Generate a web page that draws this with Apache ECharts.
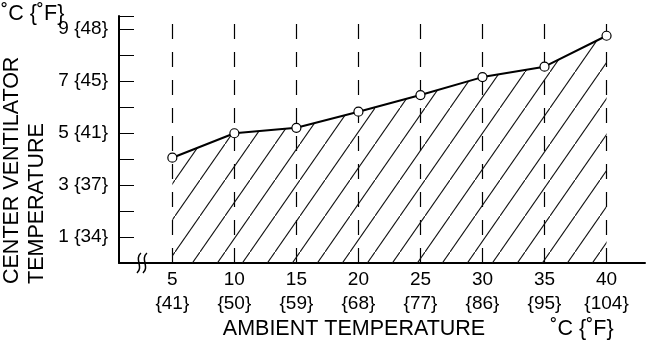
<!DOCTYPE html>
<html>
<head>
<meta charset="utf-8">
<script src="https://cdn.jsdelivr.net/npm/echarts@6/dist/echarts.min.js"></script>
<style>
  html, body { margin: 0; padding: 0; background: #fff; }
  #chart { width: 646px; height: 344px; }
</style>
</head>
<body>
<div id="chart"></div>
<script>
// ambient temp (degC) vs center ventilator temp (degC)
const ambientC = [5, 10, 15, 20, 25, 30, 35, 40];
const ambientF = ['{41}', '{50}', '{59}', '{68}', '{77}', '{86}', '{95}', '{104}'];
const ventTemp = [4.05, 4.99, 5.2, 5.82, 6.46, 7.15, 7.55, 8.74];
const yLabelValues = [1, 3, 5, 7, 9];
const yLabels = ['1 {34}', '3 {37}', '5 {41}', '7 {45}', '9 {48}'];

const FONT = '"Liberation Sans", Arial, Helvetica, sans-serif';

// diagonal hatch tile
const hatch = document.createElement('canvas');
hatch.width = 25;
hatch.height = 36;
(() => {
  const ctx = hatch.getContext('2d');
  ctx.strokeStyle = '#111';
  ctx.lineWidth = 1.1;
  ctx.beginPath();
  ctx.moveTo(0, 36);
  ctx.lineTo(25, 0);
  ctx.stroke();
})();

const chart = echarts.init(document.getElementById('chart'), null, { renderer: 'canvas' });

const option = {
  animation: false,
  backgroundColor: '#fff',
  grid: { left: 119, right: 1, top: 16, bottom: 81 },
  xAxis: {
    type: 'value',
    min: 0.7,
    max: 43.1,
    axisLine: { show: true, lineStyle: { color: '#000', width: 2 } },
    axisTick: { show: true, inside: true, length: 14, customValues: ambientC, lineStyle: { color: '#000', width: 1 } },
    axisLabel: {
      customValues: ambientC,
      margin: 5,
      color: '#000',
      fontFamily: FONT,
      fontSize: 19,
      lineHeight: 24,
      formatter: v => v + '\n' + ambientF[ambientC.indexOf(v)],
    },
    splitLine: { show: false },
  },
  yAxis: {
    type: 'value',
    min: 0,
    max: 9.5,
    interval: 1,
    axisLine: { show: true, lineStyle: { color: '#000', width: 2 } },
    axisTick: { show: true, inside: true, length: 15, lineStyle: { color: '#000', width: 1 } },
    axisLabel: {
      customValues: yLabelValues,
      margin: 11,
      color: '#000',
      fontFamily: FONT,
      fontSize: 19,
      formatter: v => yLabels[yLabelValues.indexOf(v)] ?? '',
    },
    splitLine: { show: false },
  },
  series: [
    {
      type: 'line',
      data: ambientC.map((c, i) => [c, ventTemp[i]]),
      symbol: 'circle',
      symbolSize: 9,
      itemStyle: { color: '#fff', borderColor: '#000', borderWidth: 1.2 },
      lineStyle: { color: '#000', width: 2 },
      areaStyle: { color: { image: hatch, repeat: 'repeat' }, opacity: 1 },
      z: 3,
      markLine: {
        silent: true,
        symbol: 'none',
        label: { show: false },
        lineStyle: { color: '#000', width: 1.2, type: [15, 13] },
        data: ambientC.map(c => ({ xAxis: c })),
        z: 2,
      },
    },
  ],
};

chart.setOption(option);

// texts + axis break mark (break placed via the axis scale)
const [bx, by] = chart.convertToPixel({ gridIndex: 0 }, [2.55, 0]);
const squiggle = dx => ({
  type: 'bezierCurve',
  shape: { x1: dx + 2, y1: -10, cpx1: dx - 5, cpy1: -4, cpx2: dx + 5, cpy2: 4, x2: dx - 2, y2: 10 },
  style: { stroke: '#000', lineWidth: 1.5, fill: null },
});
const txt = (text, x, y, align, rot) => ({
  type: 'text',
  x, y,
  rotation: rot || 0,
  style: { text, font: '21.5px ' + FONT, fill: '#000', textAlign: align, textVerticalAlign: 'middle' },
});
chart.setOption({
  graphic: [
    txt('˚C {˚F}', 1, 14, 'left'),
    txt('AMBIENT TEMPERATURE', 354, 329, 'center'),
    txt('˚C {˚F}', 582, 329, 'center'),
    txt('CENTER VENTILATOR', 12, 284, 'left', Math.PI / 2),
    txt('TEMPERATURE', 37, 284, 'left', Math.PI / 2),
    {
      type: 'group',
      x: bx,
      y: by,
      z: 100,
      children: [
        { type: 'rect', shape: { x: -3, y: -2, width: 6, height: 4 }, style: { fill: '#fff' } },
        squiggle(-3),
        squiggle(3),
      ],
    },
  ],
});
</script>
</body>
</html>
